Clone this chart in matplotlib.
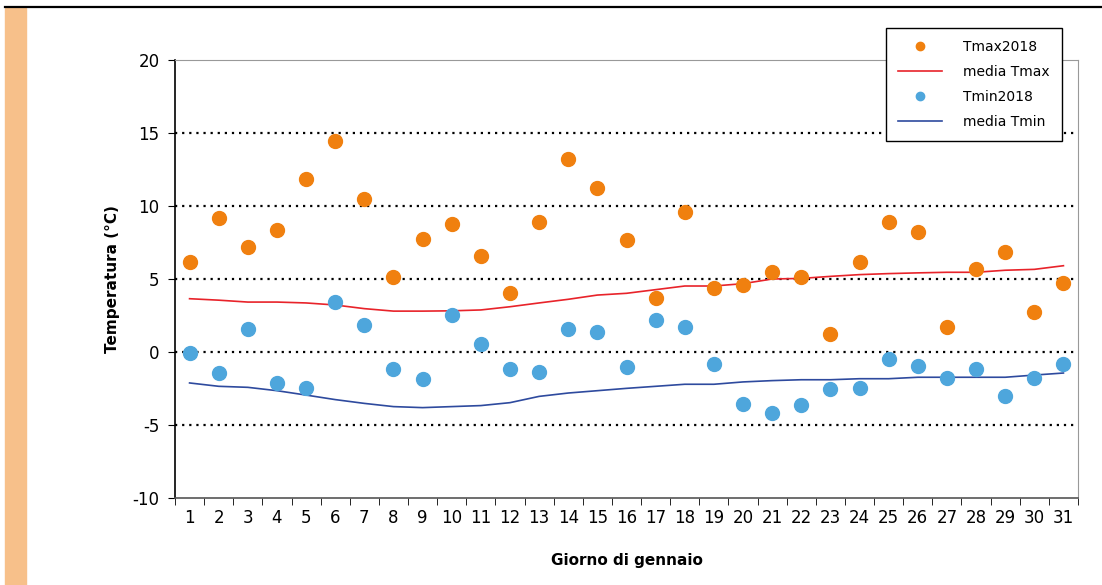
import matplotlib.pyplot as plt
import numpy as np
from matplotlib.patches import Rectangle
from matplotlib.lines import Line2D

plt.rcParams["axes.unicode_minus"] = False

days = list(range(1, 32))

tmax_2018 = [6.15, 9.2, 7.2, 8.35, 11.85, 14.45, 10.5, 5.15, 7.75, 8.8, 6.55,
             4.05, 8.9, 13.2, 11.2, 7.7, 3.7, 9.6, 4.4, 4.6, 5.45, 5.15,
             1.25, 6.15, 8.9, 8.2, 1.7, 5.7, 6.85, 2.75, 4.75]
tmin_2018 = [-0.05, -1.45, 1.6, -2.15, -2.45, 3.45, 1.85, -1.15, -1.85, 2.55, 0.55,
             -1.15, -1.4, 1.6, 1.4, -1.05, 2.2, 1.7, -0.8, -3.55, -4.15, -3.6,
             -2.55, -2.45, -0.45, -0.95, -1.75, -1.15, -3.0, -1.8, -0.85]
media_tmax = [3.65, 3.55, 3.42, 3.42, 3.36, 3.22, 2.97, 2.8, 2.8, 2.82, 2.88,
              3.1, 3.36, 3.61, 3.9, 4.02, 4.27, 4.52, 4.52, 4.68, 5.0, 5.04,
              5.18, 5.3, 5.37, 5.42, 5.46, 5.46, 5.6, 5.66, 5.91]
media_tmin = [-2.12, -2.35, -2.42, -2.65, -2.95, -3.26, -3.52, -3.74, -3.81, -3.74, -3.67,
              -3.47, -3.04, -2.81, -2.65, -2.49, -2.35, -2.21, -2.21, -2.05, -1.96, -1.9,
              -1.9, -1.83, -1.83, -1.73, -1.73, -1.73, -1.73, -1.58, -1.44]

orange = "#F0800F"
light_blue = "#4EA6DC"
red = "#E8232A"
navy = "#2E4A9E"

fig = plt.figure(figsize=(11.02, 5.85), dpi=100)

# decorations: orange strip on the left and black rule on top
fig.patches.append(Rectangle((5 / 1102, 0), 21 / 1102, 1 - 8 / 585,
                             transform=fig.transFigure, color="#F7C08A", zorder=0))
fig.lines.append(Line2D([5 / 1102, 1], [1 - 7 / 585, 1 - 7 / 585],
                        transform=fig.transFigure, color="black", lw=1.6))

ax = fig.add_axes([175 / 1102, 1 - 498 / 585, 903 / 1102, 438 / 585])

for y in [-5, 0, 5, 10, 15]:
    ax.axhline(y, color="black", ls=(0, (1, 2.2)), lw=1.6, zorder=1)

ax.plot(days, tmax_2018, "o", color=orange, ms=10, label="Tmax2018", zorder=3)
ax.plot(days, media_tmax, "-", color=red, lw=1.2, label="media Tmax", zorder=2)
ax.plot(days, tmin_2018, "o", color=light_blue, ms=10, label="Tmin2018", zorder=3)
ax.plot(days, media_tmin, "-", color=navy, lw=1.2, label="media Tmin", zorder=2)

ax.set_xlim(0.5, 31.5)
ax.set_ylim(-10, 20)
ax.set_yticks(range(-10, 21, 5))
ax.set_xticks(days)
ax.set_xticks(np.arange(0.5, 32, 1), minor=True)
ax.tick_params(axis="x", which="major", length=0, labelsize=12, pad=8)
ax.tick_params(axis="x", which="minor", length=5, direction="out")
ax.tick_params(axis="y", length=5, direction="out", labelsize=12, pad=6)

ax.spines["left"].set_color("black")
ax.spines["left"].set_linewidth(1.2)
ax.spines["bottom"].set_color("#555555")
ax.spines["bottom"].set_linewidth(1.2)
ax.spines["top"].set_color("#999999")
ax.spines["right"].set_color("#999999")

ax.set_ylabel("Temperatura (°C)", fontsize=11, fontweight="bold", labelpad=9)
ax.set_xlabel("Giorno di gennaio", fontsize=11, fontweight="bold", labelpad=19)

leg = ax.legend(loc="upper right", bbox_to_anchor=(0.982, 1.073), borderaxespad=0,
                fontsize=10, frameon=True, fancybox=False, edgecolor="black",
                framealpha=1, borderpad=0.85, labelspacing=0.8, handlelength=3.2,
                handletextpad=1.5, markerscale=0.6)
leg.get_frame().set_linewidth(1.0)
leg.set_zorder(5)

fig.savefig("out.png", dpi=100)
